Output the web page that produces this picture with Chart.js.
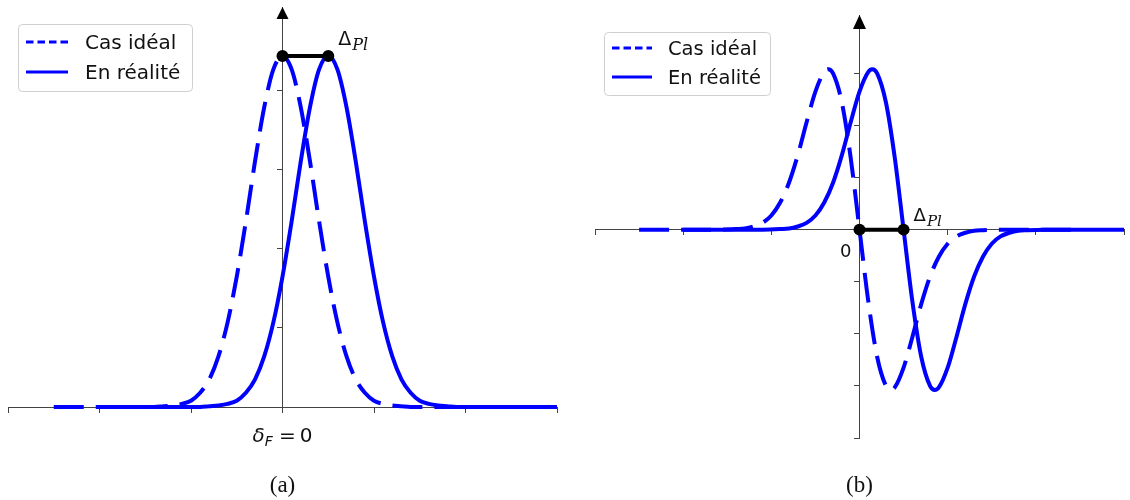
<!DOCTYPE html>
<html lang="fr">
<head>
<meta charset="UTF-8">
<title>Cas idéal / En réalité</title>
<script src="https://cdn.jsdelivr.net/npm/chart.js"></script>
<style>
  html, body { margin: 0; padding: 0; background: #fff; overflow: hidden; }
  .panel { position: absolute; top: 0; width: 565px; height: 500px; }
</style>
</head>
<body>
<div class="panel" style="left:0"><canvas id="chartA"></canvas></div>
<div class="panel" style="left:565px"><canvas id="chartB"></canvas></div>

<script>
// tick positions (no labels on the axes themselves)
const xTicks = [-3, -2, -1, 0, 1, 2, 3];
const yTicksA = [1, 2, 3, 4];
const yTicksB = [-4, -3, -2, -1, 1, 2, 3];
const seriesLabels = ['Cas idéal', 'En réalité'];

// (a) peak, ideal case centred on 0
const xIdealA = [-2.5, -2.0, -1.6, -1.4, -1.3, -1.2, -1.1, -1.0, -0.9, -0.8, -0.7, -0.6, -0.5, -0.4, -0.3, -0.2, -0.1,
  0, 0.1, 0.2, 0.3, 0.4, 0.5, 0.6, 0.7, 0.8, 0.9, 1.0, 1.1, 1.2, 1.3, 1.4, 1.6, 2.0, 2.5];
const yIdealA = [0, 0, 0, 0, 0.01, 0.02, 0.04, 0.08, 0.18, 0.35, 0.64, 1.07, 1.65, 2.35, 3.11, 3.79, 4.27,
  4.44, 4.27, 3.79, 3.11, 2.35, 1.65, 1.07, 0.64, 0.35, 0.18, 0.08, 0.04, 0.02, 0.01, 0, 0, 0, 0];
// (a) peak, real case
const xRealA = [-2.0, -1.5, -1.1, -0.9, -0.8, -0.7, -0.6, -0.5, -0.4, -0.3, -0.2, -0.1, 0, 0.1, 0.2, 0.3, 0.4,
  0.5, 0.6, 0.7, 0.8, 0.9, 1.0, 1.1, 1.2, 1.3, 1.4, 1.5, 1.6, 1.7, 1.8, 1.9, 2.1, 2.5, 3.0];
const yRealA = [0, 0, 0, 0, 0.01, 0.02, 0.04, 0.08, 0.18, 0.35, 0.64, 1.07, 1.65, 2.35, 3.11, 3.79, 4.27,
  4.44, 4.27, 3.79, 3.11, 2.35, 1.65, 1.07, 0.64, 0.35, 0.18, 0.08, 0.04, 0.02, 0.01, 0, 0, 0, 0];
// (a) shift between the two maxima
const xDeltaA = [0, 0.5];
const yDeltaA = [4.44, 4.44];

// (b) derivative shape, ideal case
const xIdealB = [-2.5, -2.0, -1.6, -1.4, -1.3, -1.2, -1.1, -1.0, -0.9, -0.8, -0.7, -0.6, -0.5, -0.4, -0.355, -0.3, -0.2, -0.1,
  0, 0.1, 0.2, 0.3, 0.355, 0.4, 0.5, 0.6, 0.7, 0.8, 0.9, 1.0, 1.1, 1.2, 1.3, 1.4, 1.6, 2.0, 2.5];
const yIdealB = [0, 0, 0, 0.01, 0.02, 0.06, 0.13, 0.27, 0.52, 0.90, 1.43, 2.06, 2.65, 3.03, 3.08, 3.00, 2.44, 1.38,
  0, -1.38, -2.44, -3.00, -3.08, -3.03, -2.65, -2.06, -1.43, -0.90, -0.52, -0.27, -0.13, -0.06, -0.02, -0.01, 0, 0, 0];
// (b) derivative shape, real case
const xRealB = [-2.0, -1.5, -1.1, -0.9, -0.8, -0.7, -0.6, -0.5, -0.4, -0.3, -0.2, -0.1, 0, 0.1, 0.145, 0.2, 0.3, 0.4,
  0.5, 0.6, 0.7, 0.8, 0.855, 0.9, 1.0, 1.1, 1.2, 1.3, 1.4, 1.5, 1.6, 1.7, 1.8, 1.9, 2.1, 2.5, 3.0];
const yRealB = [0, 0, 0, 0.01, 0.02, 0.06, 0.13, 0.27, 0.52, 0.90, 1.43, 2.06, 2.65, 3.03, 3.08, 3.00, 2.44, 1.38,
  0, -1.38, -2.44, -3.00, -3.08, -3.03, -2.65, -2.06, -1.43, -0.90, -0.52, -0.27, -0.13, -0.06, -0.02, -0.01, 0, 0, 0];
// (b) shift between the zero crossings
const xDeltaB = [0, 0.5];
const yDeltaB = [0, 0];

const BLUE = '#0000ff';
const AXIS = '#444';

function pts(xs, ys) {
  return xs.map((x, i) => ({ x: x, y: ys[i] }));
}

// arrow, Δ label, origin label, framed legend and caption
const decor = {
  id: 'decor',
  afterDraw(chart, args, o) {
    const { ctx, chartArea: area, scales: { x, y } } = chart;
    const x0 = x.getPixelForValue(0);
    const y0 = y.getPixelForValue(0);
    ctx.save();

    ctx.fillStyle = '#000';
    ctx.beginPath();
    ctx.moveTo(x0, area.top);
    ctx.lineTo(x0 - o.arrow[0] / 2, area.top + o.arrow[1]);
    ctx.lineTo(x0 + o.arrow[0] / 2, area.top + o.arrow[1]);
    ctx.closePath();
    ctx.fill();

    // Δ_Pl next to the second black dot
    const d = chart.data.datasets[0].data[1];
    const dx = x.getPixelForValue(d.x) + o.delta.dx;
    const dy = y.getPixelForValue(d.y) + o.delta.dy;
    ctx.fillStyle = '#111';
    ctx.textAlign = 'left';
    ctx.textBaseline = 'alphabetic';
    ctx.font = o.delta.size + 'px "DejaVu Sans"';
    ctx.fillText('Δ', dx, dy);
    const wD = ctx.measureText('Δ').width;
    ctx.font = 'italic ' + o.delta.sub + 'px "DejaVu Serif"';
    ctx.fillText('Pl', dx + wD + 1, dy + 5);

    if (o.origin === 'delta') {
      const parts = [
        ['δ', 'italic 20px "DejaVu Sans"', 0, 0],
        ['F', 'italic 14px "DejaVu Sans"', 0, 4],
        ['=', '20px "DejaVu Sans"', 6, 0],
        ['0', '20px "DejaVu Sans"', 4, 0]
      ];
      let total = 0;
      parts.forEach(p => { ctx.font = p[1]; total += p[2] + ctx.measureText(p[0]).width; });
      let cx = x0 - total / 2;
      parts.forEach(p => {
        ctx.font = p[1];
        cx += p[2];
        ctx.fillText(p[0], cx, y0 + 35 + p[3]);
        cx += ctx.measureText(p[0]).width;
      });
    } else {
      ctx.font = '18px "DejaVu Sans"';
      ctx.textAlign = 'right';
      ctx.fillText('0', x0 - 8, y0 + 27);
    }

    // legend with frame
    const L = o.legend;
    ctx.setLineDash([]);
    ctx.fillStyle = 'rgba(255,255,255,0.85)';
    ctx.strokeStyle = '#cfcfcf';
    ctx.lineWidth = 1;
    ctx.beginPath();
    ctx.roundRect(L.box[0] + 0.5, L.box[1] + 0.5, L.box[2], L.box[3], 4);
    ctx.fill();
    ctx.stroke();
    chart.data.datasets.filter(ds => seriesLabels.includes(ds.label)).forEach((ds, i) => {
      const ly = L.rows[i];
      ctx.strokeStyle = ds.borderColor;
      ctx.lineWidth = 2.8;
      ctx.setLineDash(ds.borderDash && ds.borderDash.length ? [7.5, 4] : []);
      ctx.beginPath();
      ctx.moveTo(L.lineX[0], ly);
      ctx.lineTo(L.lineX[1], ly);
      ctx.stroke();
      ctx.setLineDash([]);
      ctx.fillStyle = '#111';
      ctx.textAlign = 'left';
      ctx.font = L.font + 'px "DejaVu Sans"';
      ctx.fillText(ds.label, L.textX, ly + 7);
    });

    ctx.fillStyle = '#111';
    ctx.textAlign = 'center';
    ctx.font = '23px "Liberation Serif"';
    ctx.fillText(o.caption, x0, o.captionY);
    ctx.restore();
  }
};

function axis(min, max, ticks, pos) {
  return {
    type: 'linear', min: min, max: max, position: pos,
    afterBuildTicks: s => { s.ticks = ticks.map(v => ({ value: v })); },
    ticks: { display: false },
    grid: { drawOnChartArea: false, drawTicks: true, tickLength: 5, color: AXIS, tickWidth: 1 },
    border: { display: true, color: AXIS, width: 1 }
  };
}

function makeChart(id, sets, yMin, yMax, yTicks, padding, decorOpts) {
  return new Chart(document.getElementById(id), {
    type: 'line',
    data: {
      datasets: [
        { label: 'delta', data: pts(sets.dx, sets.dy), borderColor: '#000', borderWidth: 4,
          pointRadius: 6, pointBackgroundColor: '#000', pointBorderWidth: 0, order: 0, clip: false },
        { label: seriesLabels[0], data: pts(sets.xi, sets.yi), borderColor: BLUE, borderWidth: 4,
          borderDash: [30, 12], pointRadius: 0, cubicInterpolationMode: 'monotone', order: 1, clip: false },
        { label: seriesLabels[1], data: pts(sets.xr, sets.yr), borderColor: BLUE, borderWidth: 4,
          pointRadius: 0, cubicInterpolationMode: 'monotone', order: 2, clip: false }
      ]
    },
    options: {
      responsive: true,
      maintainAspectRatio: false,
      animation: false,
      events: [],
      layout: { padding: padding },
      scales: {
        x: axis(-3, 3, xTicks, { y: 0 }),
        y: axis(yMin, yMax, yTicks, { x: 0 })
      },
      plugins: {
        legend: { display: false },
        tooltip: { enabled: false },
        decor: decorOpts
      }
    },
    plugins: [decor]
  });
}

makeChart('chartA',
  { xi: xIdealA, yi: yIdealA, xr: xRealA, yr: yRealA, dx: xDeltaA, dy: yDeltaA },
  0, 5.06, yTicksA,
  { left: 8, right: 8, top: 7, bottom: 93 },
  {
    arrow: [12, 12],
    delta: { dx: 10, dy: -11, size: 19, sub: 16 },
    origin: 'delta',
    legend: { box: [18, 24, 174, 67], lineX: [26, 68], textX: 85, rows: [42, 72], font: 20 },
    caption: '(a)', captionY: 492
  });

makeChart('chartB',
  { xi: xIdealB, yi: yIdealB, xr: xRealB, yr: yRealB, dx: xDeltaB, dy: yDeltaB },
  -4, 4.12, yTicksB,
  { left: 30, right: 0, top: 15, bottom: 62 },
  {
    arrow: [13, 14],
    delta: { dx: 10, dy: -9, size: 18, sub: 15 },
    origin: 'zero',
    legend: { box: [39, 32, 166, 63], lineX: [47, 87], textX: 103, rows: [48, 77], font: 19.5 },
    caption: '(b)', captionY: 492
  });
</script>
</body>
</html>
